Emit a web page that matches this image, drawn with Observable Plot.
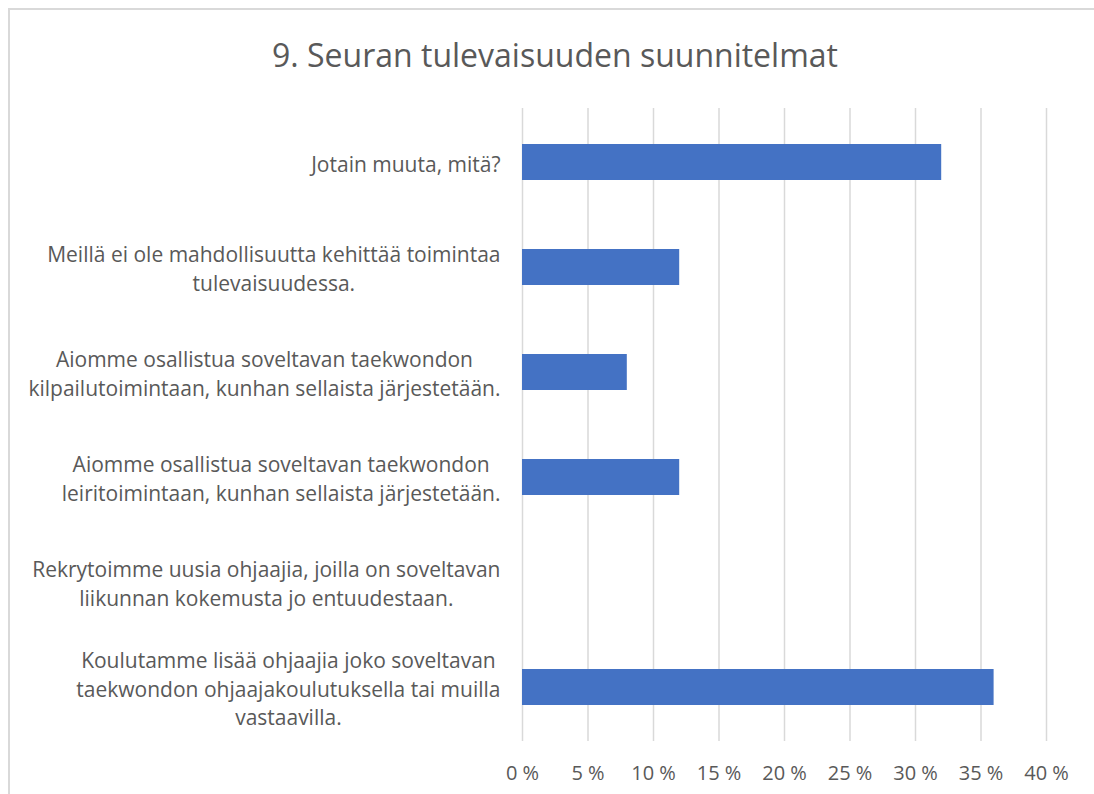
<!DOCTYPE html>
<html>
<head>
<meta charset="utf-8">
<script src="https://cdn.jsdelivr.net/npm/d3@7"></script>
<script src="https://cdn.jsdelivr.net/npm/@observablehq/plot@0.6"></script>
<style>
  html, body { margin: 0; padding: 0; background: #fff; overflow: hidden; }
  #wrap { position: relative; width: 1094px; height: 794px; overflow: hidden; font-family: "Open Sans", sans-serif; }
  #frame { position: absolute; left: 8px; top: 8px; width: 1100px; height: 800px; border: 2px solid #d9d9d9; box-sizing: border-box; }
  #title { position: absolute; left: 0; top: 0; width: 1110px; height: 95px; line-height: 110px; text-align: center; font-size: 32px; color: #595959; }
  #chart { position: absolute; left: 0; top: 95px; }
</style>
</head>
<body>
<div id="wrap">
  <div id="frame"></div>
  <div id="title">9. Seuran tulevaisuuden suunnitelmat</div>
  <div id="chart"></div>
</div>
<script>
const categories = [
  "Jotain muuta, mitä?",
  "Meillä ei ole mahdollisuutta kehittää toimintaa\ntulevaisuudessa.",
  "Aiomme osallistua soveltavan taekwondon\nkilpailutoimintaan, kunhan sellaista järjestetään.",
  "Aiomme osallistua soveltavan taekwondon\nleiritoimintaan, kunhan sellaista järjestetään.",
  "Rekrytoimme uusia ohjaajia, joilla on soveltavan\nliikunnan kokemusta jo entuudestaan.",
  "Koulutamme lisää ohjaajia joko soveltavan\ntaekwondon ohjaajakoulutuksella tai muilla\nvastaavilla."
];
const values = [32, 12, 8, 12, 0, 36];
const xTicks = [0, 5, 10, 15, 20, 25, 30, 35, 40];

const data = categories.map((c, i) => ({category: c, value: values[i]}));

const labelSize = 21;
const ctx = document.createElement("canvas").getContext("2d");
ctx.font = labelSize + "px 'Open Sans'";
function blockWidth(s) {
  return Math.max(...s.split("\n").map(l => ctx.measureText(l).width));
}

const labelMarks = data.map(d => Plot.text([d], {
  y: "category",
  text: "category",
  frameAnchor: "left",
  textAnchor: "middle",
  dx: -22 - blockWidth(d.category) / 2,
  lineHeight: 1.36,
  fontSize: labelSize,
  fill: "#595959"
}));

const chart = Plot.plot({
  width: 1094,
  height: 699,
  marginTop: 13,
  marginBottom: 53,
  marginLeft: 522,
  marginRight: 48,
  style: {fontFamily: "'Open Sans', sans-serif", color: "#595959", background: "transparent"},
  x: {domain: [0, 40], ticks: xTicks, tickFormat: d => d + " %", label: null},
  y: {domain: categories, paddingInner: 0.66, paddingOuter: 0.33, axis: null, label: null},
  marks: [
    Plot.gridX(xTicks, {stroke: "#d9d9d9", strokeOpacity: 1, strokeWidth: 1.5}),
    Plot.barX(data, {x: "value", y: "category", fill: "#4472C4"}),
    Plot.axisX(xTicks, {tickSize: 0, tickPadding: 24, fontSize: 20, fill: "#595959", label: null, tickFormat: d => d + " %"}),
    ...labelMarks
  ]
});
document.getElementById("chart").appendChild(chart);
</script>
</body>
</html>
